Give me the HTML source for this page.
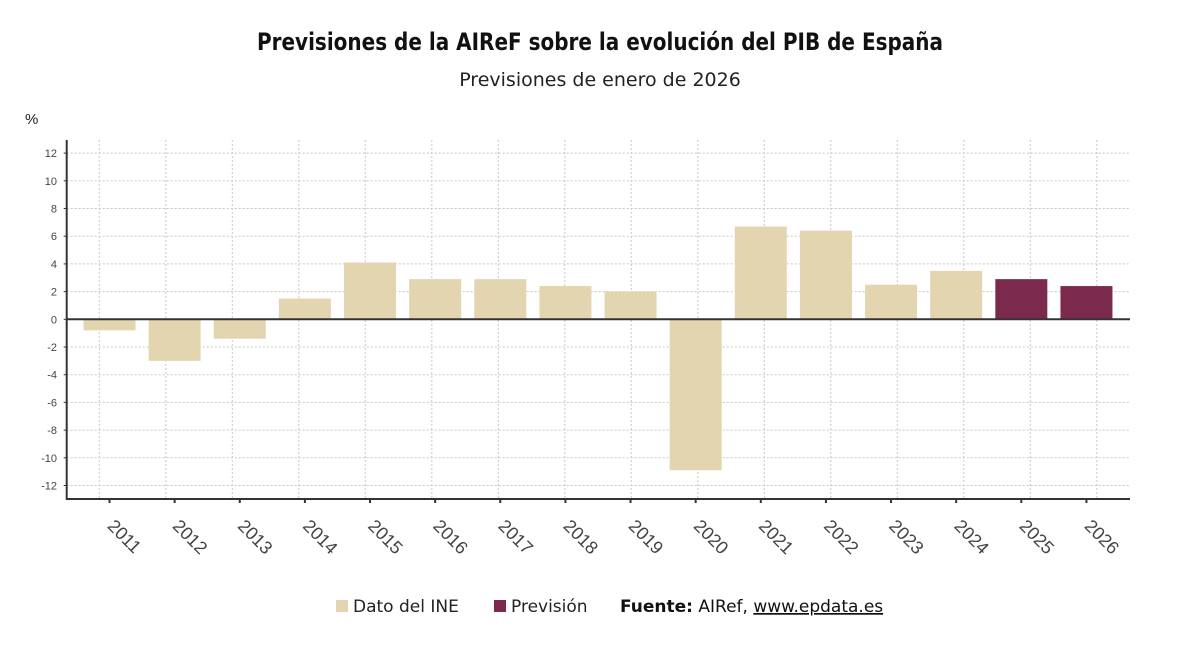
<!DOCTYPE html>
<html><head><meta charset="utf-8"><style>
body{margin:0;background:#fff;font-family:"Liberation Sans","DejaVu Sans",sans-serif}
</style></head><body>
<svg id="c" width="1200" height="651" viewBox="0 0 1200 651" xmlns="http://www.w3.org/2000/svg">
<text x="257" y="50" textLength="686" lengthAdjust="spacingAndGlyphs" font-size="24" font-weight="bold" fill="#111" font-family="DejaVu Sans, sans-serif">Previsiones de la AIReF sobre la evolución del PIB de España</text>
<text x="600" y="86" text-anchor="middle" font-size="19" fill="#222" font-family="DejaVu Sans, sans-serif">Previsiones de enero de 2026</text>
<text x="25" y="124" font-size="15" fill="#222">%</text>
<g id="grid"></g><g id="bars"></g><g id="axes"></g>
<g>
<rect x="336" y="600" width="12" height="12" fill="#e3d5b0"/>
<text x="353" y="612" font-size="17" fill="#222" font-family="DejaVu Sans, sans-serif">Dato del INE</text>
<rect x="494" y="600" width="12" height="12" fill="#7b2a4e"/>
<text x="511" y="612" font-size="17" fill="#222" font-family="DejaVu Sans, sans-serif">Previsión</text>
<text x="620" y="612" font-size="17" fill="#111" font-family="DejaVu Sans, sans-serif"><tspan font-weight="bold">Fuente:</tspan> AIRef, <tspan text-decoration="underline">www.epdata.es</tspan></text>
</g>
</svg>
<script>
const years=["2011","2012","2013","2014","2015","2016","2017","2018","2019","2020","2021","2022","2023","2024","2025","2026"];
const values=[-0.8,-3.0,-1.4,1.5,4.1,2.9,2.9,2.4,2.0,-10.9,6.7,6.4,2.5,3.5,2.9,2.4];
const forecast=[0,0,0,0,0,0,0,0,0,0,0,0,0,0,1,1];
const yTicks=[12,10,8,6,4,2,0,-2,-4,-6,-8,-10,-12];
const NS="http://www.w3.org/2000/svg";
const X0=66.7,X1=1130,YT=140,YB=499;
function y(v){return 319.3-v*13.85;}
function xc(i){return 109.5+i*65.13;}
function mk(t,a,p){const e=document.createElementNS(NS,t);for(const k in a)e.setAttribute(k,a[k]);p.appendChild(e);return e;}
const grid=document.getElementById('grid'),bars=document.getElementById('bars'),axes=document.getElementById('axes');
yTicks.forEach(v=>{
 const l=mk('line',{x1:X0,x2:X1,y1:y(v),y2:y(v),stroke:'#c8c8c8','stroke-dasharray':'2,2'},grid);
 
 
 const t=mk('text',{x:57,y:y(v)+4,'text-anchor':'end','font-size':11,fill:'#444'},axes);
 t.textContent=v;
 
 
 mk('line',{x1:X0-3,x2:X0,y1:y(v),y2:y(v),stroke:'#333'},axes);
});
for(let i=0;i<16;i++){
 const gx=99.3+i*66.5;
 const g=mk('line',{x1:gx,x2:gx,y1:YT,y2:YB,stroke:'#c8c8c8','stroke-dasharray':'2,2'},grid);
 
 
}
values.forEach((v,i)=>{
 const top=Math.min(y(v),y(0)),h=Math.abs(y(v)-y(0));
 const r=mk('rect',{x:xc(i)-26,y:top,width:52,height:h,fill:forecast[i]?'#7b2a4e':'#e3d5b0'},bars);
 
 
 mk('line',{x1:xc(i),x2:xc(i),y1:YB,y2:YB+4,stroke:'#333','stroke-width':2},axes);
 const t=mk('text',{x:0,y:0,'font-size':18,fill:'#444',transform:`translate(${xc(i)-3},${YB+28}) rotate(45)`},axes);
 t.textContent=years[i];
 
 
});
const z=mk('line',{x1:X0,x2:X1,y1:y(0),y2:y(0),stroke:'#333','stroke-width':2},axes);


const ya=mk('line',{x1:X0,x2:X0,y1:YT,y2:YB+1,stroke:'#333','stroke-width':2},axes);


const xa=mk('line',{x1:X0,x2:X1,y1:YB,y2:YB,stroke:'#333','stroke-width':2},axes);


</script>
</body></html>
